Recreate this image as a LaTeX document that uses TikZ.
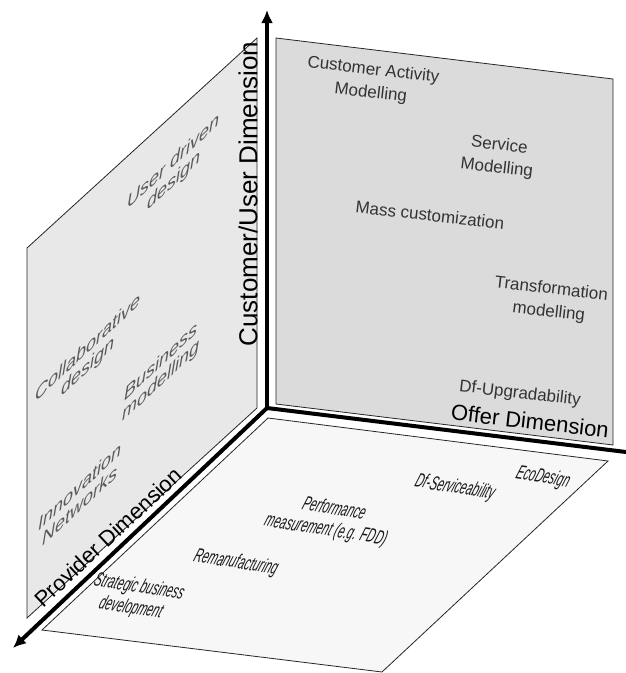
\documentclass[tikz,border=0pt]{standalone}
\usepackage{fontspec}
\setmainfont{Liberation Sans}
\usepackage{tikz}
\usetikzlibrary{arrows.meta}

\begin{document}
\begin{tikzpicture}[x=1pt,y=-1pt]
\tikzstyle{wall}=[draw=black!85, line width=0.8pt]
\tikzstyle{axis}=[line width=4pt, draw=black]
\tikzstyle{dim}=[font=\fontsize{22}{24}\selectfont, inner sep=0pt]
\tikzstyle{offer}=[font=\fontsize{17}{23}\selectfont, text=black!80, align=center, rotate=-6.5, inner sep=0pt]
\tikzstyle{provider}=[font=\itshape\fontsize{18}{19}\selectfont, text=black!65, align=center, yslant=0.93, inner sep=0pt]
\tikzstyle{ground}=[font=\itshape\fontsize{20}{22}\selectfont, text=black!90, align=center, rotate=-9, xscale=0.55, xslant=0.4, inner sep=0pt]
\useasboundingbox (0,0) rectangle (626,673);
	% the three walls
	\fill[white] (0,0) rectangle (626,673);
	\filldraw[wall, fill=black!9] (257,38) -- (27,248) -- (27,618) -- (257,408) -- cycle;
	\filldraw[wall, fill=black!14] (276,38) -- (613,79) -- (613,445) -- (276,404) -- cycle;
	\filldraw[wall, fill=black!3] (268,418) -- (608,461) -- (382,672) -- (42,630) -- cycle;
	% axes
	\coordinate (o) at (267,408);
	\coordinate (top) at (267,10);
	\coordinate (prov) at (13,648);
	\coordinate (offr) at (626,452);
	\draw[axis, -{Latex[length=13pt,width=12pt]}] (o) -- (top);
	\draw[axis, -{Latex[length=13pt,width=12pt]}] (o) -- (prov);
	\draw[axis] (o) -- (offr);
	\node[dim, font=\fontsize{26}{28}\selectfont, rotate=90] (d_cust) at (248,194) {Customer/User Dimension};
	\node[dim, rotate=43] (d_prov) at (108,537) {Provider Dimension};
	\node[dim, rotate=-6.5] (d_offr) at (530,421) {Offer Dimension};
	% offer wall
	\node[offer] (o_1) at (372,82) {Customer Activity\\Modelling};
	\node[offer] (o_2) at (498,157) {Service\\Modelling};
	\node[offer] (o_3) at (430,215) {Mass customization};
	\node[offer] (o_4) at (550,301) {Transformation\\modelling};
	\node[offer] (o_5) at (520,394) {Df-Upgradability};
	% provider wall
	\node[provider] (p_1) at (174,172) {User driven\\design};
	\node[provider] (p_2) at (88,358) {Collaborative\\design};
	\node[provider] (p_3) at (161,372) {Business\\modelling};
	\node[provider] (p_4) at (80,496) {Innovation\\Networks};
	% floor
	\node[ground] (g_1) at (543,478) {EcoDesign};
	\node[ground] (g_2) at (455,488) {Df-Serviceability};
	\node[ground] (g_3) at (330,520) {Performance\\measurement (e.g. FDD)};
	\node[ground] (g_4) at (236,563) {Remanufacturing};
	\node[ground] (g_5) at (135,598) {Strategic business\\development};
\end{tikzpicture}
\end{document}
